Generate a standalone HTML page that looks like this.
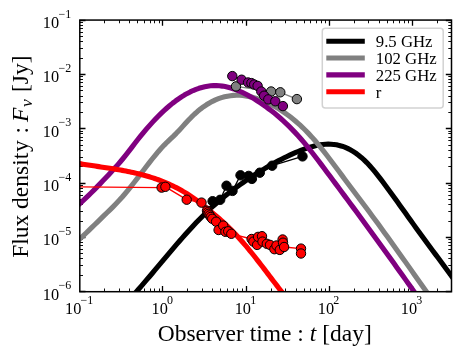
<!DOCTYPE html>
<html><head><meta charset="utf-8"><title>chart</title><style>html,body{margin:0;padding:0;background:#fff;}body{width:463px;height:360px;overflow:hidden;font-family:"Liberation Serif",serif;}svg{position:absolute;left:0;top:0;will-change:transform}</style></head><body>
<svg width="463" height="360" viewBox="0 0 463 360" style="display:block">
<rect x="0" y="0" width="463" height="360" fill="#ffffff"/>
<defs><clipPath id="ax"><rect x="79.8" y="20.07" width="371.70" height="271.63"/></clipPath></defs>
<path d="M162.50,291.7 v-5.7 M162.50,20.07 v5.7 M246.50,291.7 v-5.7 M246.50,20.07 v5.7 M329.50,291.7 v-5.7 M329.50,20.07 v5.7 M412.50,291.7 v-5.7 M412.50,20.07 v5.7 M79.8,291.50 h5.7 M451.5,291.50 h-5.7 M79.8,237.50 h5.7 M451.5,237.50 h-5.7 M79.8,183.50 h5.7 M451.5,183.50 h-5.7 M79.8,128.50 h5.7 M451.5,128.50 h-5.7 M79.8,74.50 h5.7 M451.5,74.50 h-5.7 M79.8,20.50 h5.7 M451.5,20.50 h-5.7" stroke="#000" stroke-width="1.3" fill="none"/>
<path d="M104.50,291.7 v-3.2 M104.50,20.07 v3.2 M119.50,291.7 v-3.2 M119.50,20.07 v3.2 M129.50,291.7 v-3.2 M129.50,20.07 v3.2 M137.50,291.7 v-3.2 M137.50,20.07 v3.2 M144.50,291.7 v-3.2 M144.50,20.07 v3.2 M150.50,291.7 v-3.2 M150.50,20.07 v3.2 M154.50,291.7 v-3.2 M154.50,20.07 v3.2 M159.50,291.7 v-3.2 M159.50,20.07 v3.2 M187.50,291.7 v-3.2 M187.50,20.07 v3.2 M202.50,291.7 v-3.2 M202.50,20.07 v3.2 M212.50,291.7 v-3.2 M212.50,20.07 v3.2 M220.50,291.7 v-3.2 M220.50,20.07 v3.2 M227.50,291.7 v-3.2 M227.50,20.07 v3.2 M233.50,291.7 v-3.2 M233.50,20.07 v3.2 M237.50,291.7 v-3.2 M237.50,20.07 v3.2 M242.50,291.7 v-3.2 M242.50,20.07 v3.2 M271.50,291.7 v-3.2 M271.50,20.07 v3.2 M285.50,291.7 v-3.2 M285.50,20.07 v3.2 M296.50,291.7 v-3.2 M296.50,20.07 v3.2 M304.50,291.7 v-3.2 M304.50,20.07 v3.2 M310.50,291.7 v-3.2 M310.50,20.07 v3.2 M316.50,291.7 v-3.2 M316.50,20.07 v3.2 M321.50,291.7 v-3.2 M321.50,20.07 v3.2 M325.50,291.7 v-3.2 M325.50,20.07 v3.2 M354.50,291.7 v-3.2 M354.50,20.07 v3.2 M368.50,291.7 v-3.2 M368.50,20.07 v3.2 M379.50,291.7 v-3.2 M379.50,20.07 v3.2 M387.50,291.7 v-3.2 M387.50,20.07 v3.2 M393.50,291.7 v-3.2 M393.50,20.07 v3.2 M399.50,291.7 v-3.2 M399.50,20.07 v3.2 M404.50,291.7 v-3.2 M404.50,20.07 v3.2 M408.50,291.7 v-3.2 M408.50,20.07 v3.2 M437.50,291.7 v-3.2 M437.50,20.07 v3.2 M451.50,291.7 v-3.2 M451.50,20.07 v3.2 M79.8,275.50 h3.2 M451.5,275.50 h-3.2 M79.8,265.50 h3.2 M451.5,265.50 h-3.2 M79.8,258.50 h3.2 M451.5,258.50 h-3.2 M79.8,253.50 h3.2 M451.5,253.50 h-3.2 M79.8,249.50 h3.2 M451.5,249.50 h-3.2 M79.8,245.50 h3.2 M451.5,245.50 h-3.2 M79.8,242.50 h3.2 M451.5,242.50 h-3.2 M79.8,239.50 h3.2 M451.5,239.50 h-3.2 M79.8,221.50 h3.2 M451.5,221.50 h-3.2 M79.8,211.50 h3.2 M451.5,211.50 h-3.2 M79.8,204.50 h3.2 M451.5,204.50 h-3.2 M79.8,199.50 h3.2 M451.5,199.50 h-3.2 M79.8,195.50 h3.2 M451.5,195.50 h-3.2 M79.8,191.50 h3.2 M451.5,191.50 h-3.2 M79.8,188.50 h3.2 M451.5,188.50 h-3.2 M79.8,185.50 h3.2 M451.5,185.50 h-3.2 M79.8,166.50 h3.2 M451.5,166.50 h-3.2 M79.8,157.50 h3.2 M451.5,157.50 h-3.2 M79.8,150.50 h3.2 M451.5,150.50 h-3.2 M79.8,145.50 h3.2 M451.5,145.50 h-3.2 M79.8,140.50 h3.2 M451.5,140.50 h-3.2 M79.8,137.50 h3.2 M451.5,137.50 h-3.2 M79.8,133.50 h3.2 M451.5,133.50 h-3.2 M79.8,131.50 h3.2 M451.5,131.50 h-3.2 M79.8,112.50 h3.2 M451.5,112.50 h-3.2 M79.8,102.50 h3.2 M451.5,102.50 h-3.2 M79.8,96.50 h3.2 M451.5,96.50 h-3.2 M79.8,90.50 h3.2 M451.5,90.50 h-3.2 M79.8,86.50 h3.2 M451.5,86.50 h-3.2 M79.8,82.50 h3.2 M451.5,82.50 h-3.2 M79.8,79.50 h3.2 M451.5,79.50 h-3.2 M79.8,76.50 h3.2 M451.5,76.50 h-3.2 M79.8,58.50 h3.2 M451.5,58.50 h-3.2 M79.8,48.50 h3.2 M451.5,48.50 h-3.2 M79.8,41.50 h3.2 M451.5,41.50 h-3.2 M79.8,36.50 h3.2 M451.5,36.50 h-3.2 M79.8,32.50 h3.2 M451.5,32.50 h-3.2 M79.8,28.50 h3.2 M451.5,28.50 h-3.2 M79.8,25.50 h3.2 M451.5,25.50 h-3.2 M79.8,22.50 h3.2 M451.5,22.50 h-3.2" stroke="#000" stroke-width="0.95" fill="none"/>
<g clip-path="url(#ax)" fill="none" stroke-linejoin="round">
<path d="M130.30,298.52 L133.05,295.48 L135.80,292.39 L138.55,289.27 L141.30,286.11 L144.05,282.93 L146.80,279.71 L149.55,276.48 L152.30,273.23 L155.05,269.96 L157.80,266.69 L160.55,263.42 L163.29,260.14 L166.04,256.87 L168.79,253.62 L171.54,250.37 L174.29,247.15 L177.04,243.94 L179.79,240.77 L182.54,237.63 L185.29,234.52 L188.04,231.46 L190.79,228.44 L193.54,225.48 L196.29,222.57 L199.04,219.71 L201.79,216.92 L204.54,214.20 L207.29,211.55 L210.04,208.97 L212.79,206.46 L215.54,204.01 L218.29,201.62 L221.04,199.30 L223.79,197.03 L226.54,194.82 L229.28,192.66 L232.03,190.55 L234.78,188.49 L237.53,186.48 L240.28,184.51 L243.03,182.58 L245.78,180.69 L248.53,178.84 L251.28,177.02 L254.03,175.24 L256.78,173.48 L259.53,171.75 L262.28,170.06 L265.03,168.39 L267.78,166.76 L270.53,165.16 L273.28,163.60 L276.03,162.08 L278.78,160.60 L281.53,159.16 L284.28,157.77 L287.03,156.42 L289.78,155.11 L292.53,153.85 L295.27,152.65 L298.02,151.49 L300.77,150.39 L303.52,149.35 L306.27,148.37 L309.02,147.47 L311.77,146.66 L314.52,145.94 L317.27,145.33 L320.02,144.83 L322.77,144.46 L325.52,144.23 L328.27,144.14 L331.02,144.20 L333.77,144.43 L336.52,144.83 L339.27,145.42 L342.02,146.19 L344.77,147.17 L347.52,148.36 L350.27,149.75 L353.02,151.35 L355.77,153.16 L358.52,155.19 L361.26,157.43 L364.01,159.89 L366.76,162.57 L369.51,165.48 L372.26,168.60 L375.01,171.91 L377.76,175.36 L380.51,178.93 L383.26,182.57 L386.01,186.25 L388.76,189.98 L391.51,193.73 L394.26,197.52 L397.01,201.32 L399.76,205.15 L402.51,208.99 L405.26,212.83 L408.01,216.68 L410.76,220.52 L413.51,224.36 L416.26,228.19 L419.01,232.00 L421.76,235.79 L424.51,239.55 L427.25,243.28 L430.00,246.99 L432.75,250.68 L435.50,254.36 L438.25,258.04 L441.00,261.73 L443.75,265.44 L446.50,269.17 L449.25,272.93 L452.00,276.73 L454.75,280.57 L457.50,284.47" stroke="#000000" stroke-width="5.1"/>
<path d="M73.80,244.69 L76.81,241.87 L79.83,239.02 L82.84,236.15 L85.86,233.26 L88.87,230.35 L91.89,227.43 L94.90,224.50 L97.91,221.57 L100.93,218.63 L103.94,215.70 L106.96,212.78 L109.97,209.83 L112.99,206.84 L116.00,203.76 L119.01,200.58 L122.03,197.24 L125.04,193.74 L128.06,190.07 L131.07,186.31 L134.09,182.48 L137.10,178.60 L140.11,174.66 L143.13,170.69 L146.14,166.74 L149.16,162.84 L152.17,159.01 L155.19,155.28 L158.20,151.71 L161.21,148.30 L164.23,145.09 L167.24,142.06 L170.26,139.19 L173.27,136.33 L176.29,133.32 L179.30,130.14 L182.31,126.86 L185.33,123.56 L188.34,120.31 L191.36,117.19 L194.37,114.26 L197.39,111.56 L200.40,109.09 L203.41,106.83 L206.43,104.78 L209.44,102.95 L212.46,101.33 L215.47,99.91 L218.49,98.68 L221.50,97.66 L224.51,96.82 L227.53,96.17 L230.54,95.69 L233.56,95.40 L236.57,95.27 L239.59,95.31 L242.60,95.52 L245.61,95.88 L248.63,96.39 L251.64,97.05 L254.66,97.85 L257.67,98.80 L260.69,99.87 L263.70,101.08 L266.71,102.41 L269.73,103.85 L272.74,105.42 L275.76,107.10 L278.77,108.89 L281.79,110.81 L284.80,112.85 L287.81,115.01 L290.83,117.30 L293.84,119.72 L296.86,122.28 L299.87,124.97 L302.89,127.80 L305.90,130.77 L308.91,133.89 L311.93,137.15 L314.94,140.56 L317.96,144.12 L320.97,147.80 L323.99,151.59 L327.00,155.47 L330.01,159.43 L333.03,163.44 L336.04,167.49 L339.06,171.55 L342.07,175.63 L345.09,179.68 L348.10,183.72 L351.11,187.74 L354.13,191.75 L357.14,195.76 L360.16,199.76 L363.17,203.78 L366.19,207.81 L369.20,211.85 L372.21,215.91 L375.23,220.00 L378.24,224.11 L381.26,228.25 L384.27,232.40 L387.29,236.57 L390.30,240.76 L393.31,244.96 L396.33,249.18 L399.34,253.41 L402.36,257.65 L405.37,261.89 L408.39,266.14 L411.40,270.40 L414.41,274.66 L417.43,278.92 L420.44,283.18 L423.46,287.43 L426.47,291.68 L429.49,295.93 L432.50,300.17" stroke="#808080" stroke-width="5.1"/>
<path d="M73.80,208.85 L76.71,206.35 L79.62,203.78 L82.53,201.12 L85.44,198.40 L88.35,195.61 L91.26,192.75 L94.17,189.85 L97.08,186.89 L99.99,183.88 L102.90,180.84 L105.81,177.76 L108.72,174.64 L111.63,171.50 L114.54,168.33 L117.45,165.08 L120.36,161.73 L123.27,158.25 L126.18,154.63 L129.09,150.89 L132.00,147.09 L134.91,143.29 L137.82,139.55 L140.73,135.90 L143.64,132.35 L146.55,128.91 L149.46,125.58 L152.37,122.35 L155.28,119.24 L158.19,116.25 L161.10,113.37 L164.01,110.62 L166.92,108.00 L169.83,105.50 L172.74,103.14 L175.65,100.91 L178.56,98.82 L181.47,96.87 L184.38,95.07 L187.29,93.41 L190.20,91.90 L193.11,90.55 L196.02,89.35 L198.93,88.31 L201.84,87.44 L204.75,86.73 L207.66,86.19 L210.57,85.82 L213.48,85.62 L216.39,85.61 L219.30,85.77 L222.21,86.10 L225.12,86.59 L228.03,87.23 L230.94,88.03 L233.85,88.96 L236.76,90.03 L239.67,91.23 L242.58,92.55 L245.49,93.99 L248.41,95.53 L251.32,97.18 L254.23,98.92 L257.14,100.74 L260.05,102.65 L262.96,104.63 L265.87,106.69 L268.78,108.83 L271.69,111.06 L274.60,113.37 L277.51,115.78 L280.42,118.28 L283.33,120.89 L286.24,123.59 L289.15,126.41 L292.06,129.33 L294.97,132.37 L297.88,135.52 L300.79,138.80 L303.70,142.20 L306.61,145.70 L309.52,149.30 L312.43,152.98 L315.34,156.73 L318.25,160.53 L321.16,164.38 L324.07,168.26 L326.98,172.16 L329.89,176.07 L332.80,179.97 L335.71,183.88 L338.62,187.78 L341.53,191.69 L344.44,195.61 L347.35,199.52 L350.26,203.45 L353.17,207.38 L356.08,211.32 L358.99,215.27 L361.90,219.23 L364.81,223.20 L367.72,227.17 L370.63,231.16 L373.54,235.16 L376.45,239.16 L379.36,243.17 L382.27,247.20 L385.18,251.22 L388.09,255.26 L391.00,259.31 L393.91,263.36 L396.82,267.42 L399.73,271.48 L402.64,275.56 L405.55,279.64 L408.46,283.72 L411.37,287.81 L414.28,291.91 L417.19,296.01 L420.10,300.12" stroke="#800080" stroke-width="5.1"/>
<path d="M73.80,162.58 L75.60,162.91 L77.39,163.23 L79.19,163.54 L80.99,163.85 L82.79,164.15 L84.58,164.44 L86.38,164.73 L88.18,165.01 L89.98,165.29 L91.77,165.56 L93.57,165.83 L95.37,166.10 L97.17,166.37 L98.96,166.64 L100.76,166.91 L102.56,167.17 L104.36,167.44 L106.15,167.72 L107.95,167.99 L109.75,168.27 L111.55,168.55 L113.34,168.84 L115.14,169.13 L116.94,169.43 L118.74,169.74 L120.53,170.06 L122.33,170.38 L124.13,170.71 L125.93,171.06 L127.72,171.41 L129.52,171.78 L131.32,172.15 L133.12,172.54 L134.91,172.95 L136.71,173.37 L138.51,173.80 L140.31,174.25 L142.10,174.71 L143.90,175.20 L145.70,175.70 L147.50,176.22 L149.29,176.76 L151.09,177.32 L152.89,177.89 L154.69,178.50 L156.48,179.12 L158.28,179.76 L160.08,180.43 L161.88,181.13 L163.67,181.85 L165.47,182.59 L167.27,183.36 L169.07,184.16 L170.86,184.99 L172.66,185.84 L174.46,186.72 L176.26,187.64 L178.05,188.58 L179.85,189.56 L181.65,190.57 L183.45,191.61 L185.24,192.68 L187.04,193.79 L188.84,194.94 L190.64,196.11 L192.43,197.33 L194.23,198.58 L196.03,199.87 L197.83,201.19 L199.62,202.53 L201.42,203.91 L203.22,205.31 L205.02,206.73 L206.81,208.17 L208.61,209.63 L210.41,211.11 L212.21,212.60 L214.00,214.11 L215.80,215.64 L217.60,217.19 L219.40,218.76 L221.19,220.36 L222.99,221.99 L224.79,223.65 L226.59,225.33 L228.38,227.05 L230.18,228.81 L231.98,230.60 L233.78,232.44 L235.57,234.31 L237.37,236.22 L239.17,238.19 L240.97,240.19 L242.76,242.24 L244.56,244.32 L246.36,246.45 L248.16,248.60 L249.95,250.79 L251.75,253.01 L253.55,255.26 L255.35,257.53 L257.14,259.82 L258.94,262.13 L260.74,264.45 L262.54,266.79 L264.33,269.14 L266.13,271.50 L267.93,273.86 L269.73,276.23 L271.52,278.60 L273.32,280.96 L275.12,283.32 L276.92,285.67 L278.71,288.01 L280.51,290.33 L282.31,292.64 L284.11,294.94 L285.90,297.21 L287.70,299.45" stroke="#ff0000" stroke-width="5.1"/>
<path d="M212.6,201.2 L220.2,199.8 L226.5,185.7 L232.5,190.9 L240.5,175.3 L248.7,175.9 L251.9,178.9 L259.8,172.7 L272.2,165.7 L302.5,156.4" stroke="#000000" stroke-width="1.35" fill="none"/><circle cx="212.6" cy="201.2" r="4.7" fill="#000000" stroke="#000" stroke-width="1.0"/><circle cx="220.2" cy="199.8" r="4.7" fill="#000000" stroke="#000" stroke-width="1.0"/><circle cx="226.5" cy="185.7" r="4.7" fill="#000000" stroke="#000" stroke-width="1.0"/><circle cx="232.5" cy="190.9" r="4.7" fill="#000000" stroke="#000" stroke-width="1.0"/><circle cx="240.5" cy="175.3" r="4.7" fill="#000000" stroke="#000" stroke-width="1.0"/><circle cx="248.7" cy="175.9" r="4.7" fill="#000000" stroke="#000" stroke-width="1.0"/><circle cx="251.9" cy="178.9" r="4.7" fill="#000000" stroke="#000" stroke-width="1.0"/><circle cx="259.8" cy="172.7" r="4.7" fill="#000000" stroke="#000" stroke-width="1.0"/><circle cx="272.2" cy="165.7" r="4.7" fill="#000000" stroke="#000" stroke-width="1.0"/><circle cx="302.5" cy="156.4" r="4.7" fill="#000000" stroke="#000" stroke-width="1.0"/>
<path d="M236.0,86.4 L271.1,91.5 L280.3,92.3 L296.9,99.1" stroke="#808080" stroke-width="1.35" fill="none"/><circle cx="236.0" cy="86.4" r="4.7" fill="#808080" stroke="#000" stroke-width="1.0"/><circle cx="271.1" cy="91.5" r="4.7" fill="#808080" stroke="#000" stroke-width="1.0"/><circle cx="280.3" cy="92.3" r="4.7" fill="#808080" stroke="#000" stroke-width="1.0"/><circle cx="296.9" cy="99.1" r="4.7" fill="#808080" stroke="#000" stroke-width="1.0"/>
<path d="M232.3,76.1 L241.6,79.7 L248.1,82.5 L251.4,83.1 L254.2,84.5 L257.6,85.9 L261.3,91.5 L264.1,95.7 L268.3,99.4 L275.3,101.3 L282.9,106.1" stroke="#800080" stroke-width="1.35" fill="none"/><circle cx="232.3" cy="76.1" r="4.7" fill="#800080" stroke="#000" stroke-width="1.0"/><circle cx="241.6" cy="79.7" r="4.7" fill="#800080" stroke="#000" stroke-width="1.0"/><circle cx="248.1" cy="82.5" r="4.7" fill="#800080" stroke="#000" stroke-width="1.0"/><circle cx="251.4" cy="83.1" r="4.7" fill="#800080" stroke="#000" stroke-width="1.0"/><circle cx="254.2" cy="84.5" r="4.7" fill="#800080" stroke="#000" stroke-width="1.0"/><circle cx="257.6" cy="85.9" r="4.7" fill="#800080" stroke="#000" stroke-width="1.0"/><circle cx="261.3" cy="91.5" r="4.7" fill="#800080" stroke="#000" stroke-width="1.0"/><circle cx="264.1" cy="95.7" r="4.7" fill="#800080" stroke="#000" stroke-width="1.0"/><circle cx="268.3" cy="99.4" r="4.7" fill="#800080" stroke="#000" stroke-width="1.0"/><circle cx="275.3" cy="101.3" r="4.7" fill="#800080" stroke="#000" stroke-width="1.0"/><circle cx="282.9" cy="106.1" r="4.7" fill="#800080" stroke="#000" stroke-width="1.0"/>
<path d="M74.8,186.9 L161.6,187.6 L165.4,186.8 L186.7,199.7 L201.5,202.6 L207.0,210.8 L207.8,212.3 L208.7,213.8 L209.7,215.4 L210.8,217.0 L212.2,218.8 L216.1,221.7 L218.6,230.0 L223.2,225.6 L225.4,231.8 L228.2,231.3 L231.3,233.8 L251.6,239.0 L253.4,241.6 L257.1,244.9 L258.1,236.9 L262.0,236.2 L262.5,241.6 L266.8,243.8 L270.0,244.9 L274.4,249.2 L276.5,245.5 L279.8,249.9 L282.6,239.5 L283.0,242.7 L284.1,247.0 L301.0,248.6 L301.0,253.5" stroke="#ff0000" stroke-width="1.35" fill="none"/><circle cx="161.6" cy="187.6" r="4.7" fill="#ff0000" stroke="#000" stroke-width="1.0"/><circle cx="165.4" cy="186.8" r="4.7" fill="#ff0000" stroke="#000" stroke-width="1.0"/><circle cx="186.7" cy="199.7" r="4.7" fill="#ff0000" stroke="#000" stroke-width="1.0"/><circle cx="201.5" cy="202.6" r="4.7" fill="#ff0000" stroke="#000" stroke-width="1.0"/><circle cx="207.0" cy="210.8" r="4.7" fill="#ff0000" stroke="#000" stroke-width="1.0"/><circle cx="207.8" cy="212.3" r="4.7" fill="#ff0000" stroke="#000" stroke-width="1.0"/><circle cx="208.7" cy="213.8" r="4.7" fill="#ff0000" stroke="#000" stroke-width="1.0"/><circle cx="209.7" cy="215.4" r="4.7" fill="#ff0000" stroke="#000" stroke-width="1.0"/><circle cx="210.8" cy="217.0" r="4.7" fill="#ff0000" stroke="#000" stroke-width="1.0"/><circle cx="212.2" cy="218.8" r="4.7" fill="#ff0000" stroke="#000" stroke-width="1.0"/><circle cx="216.1" cy="221.7" r="4.7" fill="#ff0000" stroke="#000" stroke-width="1.0"/><circle cx="218.6" cy="230.0" r="4.7" fill="#ff0000" stroke="#000" stroke-width="1.0"/><circle cx="223.2" cy="225.6" r="4.7" fill="#ff0000" stroke="#000" stroke-width="1.0"/><circle cx="225.4" cy="231.8" r="4.7" fill="#ff0000" stroke="#000" stroke-width="1.0"/><circle cx="228.2" cy="231.3" r="4.7" fill="#ff0000" stroke="#000" stroke-width="1.0"/><circle cx="231.3" cy="233.8" r="4.7" fill="#ff0000" stroke="#000" stroke-width="1.0"/><circle cx="251.6" cy="239.0" r="4.7" fill="#ff0000" stroke="#000" stroke-width="1.0"/><circle cx="253.4" cy="241.6" r="4.7" fill="#ff0000" stroke="#000" stroke-width="1.0"/><circle cx="257.1" cy="244.9" r="4.7" fill="#ff0000" stroke="#000" stroke-width="1.0"/><circle cx="258.1" cy="236.9" r="4.7" fill="#ff0000" stroke="#000" stroke-width="1.0"/><circle cx="262.0" cy="236.2" r="4.7" fill="#ff0000" stroke="#000" stroke-width="1.0"/><circle cx="262.5" cy="241.6" r="4.7" fill="#ff0000" stroke="#000" stroke-width="1.0"/><circle cx="266.8" cy="243.8" r="4.7" fill="#ff0000" stroke="#000" stroke-width="1.0"/><circle cx="270.0" cy="244.9" r="4.7" fill="#ff0000" stroke="#000" stroke-width="1.0"/><circle cx="274.4" cy="249.2" r="4.7" fill="#ff0000" stroke="#000" stroke-width="1.0"/><circle cx="276.5" cy="245.5" r="4.7" fill="#ff0000" stroke="#000" stroke-width="1.0"/><circle cx="279.8" cy="249.9" r="4.7" fill="#ff0000" stroke="#000" stroke-width="1.0"/><circle cx="282.6" cy="239.5" r="4.7" fill="#ff0000" stroke="#000" stroke-width="1.0"/><circle cx="283.0" cy="242.7" r="4.7" fill="#ff0000" stroke="#000" stroke-width="1.0"/><circle cx="284.1" cy="247.0" r="4.7" fill="#ff0000" stroke="#000" stroke-width="1.0"/><circle cx="301.0" cy="248.6" r="4.7" fill="#ff0000" stroke="#000" stroke-width="1.0"/><circle cx="301.0" cy="253.5" r="4.7" fill="#ff0000" stroke="#000" stroke-width="1.0"/>
</g>
<rect x="79.8" y="20.07" width="371.70" height="271.63" fill="none" stroke="#000" stroke-width="1.5"/>
<g font-family="'Liberation Serif', serif" fill="#000">
<text x="65.07" y="314" font-size="16.3">10</text><text x="80.57" y="303.7" font-size="12">&#8722;1</text>
<text x="151.55" y="314" font-size="16.3">10</text><text x="167.05" y="303.7" font-size="12">0</text>
<text x="234.65" y="314" font-size="16.3">10</text><text x="250.15" y="303.7" font-size="12">1</text>
<text x="317.75" y="314" font-size="16.3">10</text><text x="333.25" y="303.7" font-size="12">2</text>
<text x="400.85" y="314" font-size="16.3">10</text><text x="416.35" y="303.7" font-size="12">3</text>
<text x="42.83" y="299.50" font-size="16.3">10</text><text x="58.53" y="289.30" font-size="12">&#8722;6</text>
<text x="42.83" y="245.17" font-size="16.3">10</text><text x="58.53" y="234.97" font-size="12">&#8722;5</text>
<text x="42.83" y="190.85" font-size="16.3">10</text><text x="58.53" y="180.65" font-size="12">&#8722;4</text>
<text x="42.83" y="136.52" font-size="16.3">10</text><text x="58.53" y="126.32" font-size="12">&#8722;3</text>
<text x="42.83" y="82.20" font-size="16.3">10</text><text x="58.53" y="72.00" font-size="12">&#8722;2</text>
<text x="42.83" y="27.87" font-size="16.3">10</text><text x="58.53" y="17.67" font-size="12">&#8722;1</text>
<text x="264.7" y="340.9" font-size="23.5" text-anchor="middle">Observer time : <tspan font-style="italic">t</tspan> [day]</text>
<text transform="translate(28.1,156.7) rotate(-90)" font-size="23.5" text-anchor="middle">Flux densit<tspan dx="0.7">y</tspan><tspan dx="0.9"> : </tspan><tspan font-style="italic" dx="-0.8">F</tspan><tspan font-style="italic" font-size="17.62" dy="3.8" dx="0.6">&#957;</tspan><tspan dy="-3.8" dx="1.2"> [Jy]</tspan></text>
</g>
<rect x="322.3" y="28.3" width="120.9" height="79.6" rx="3" ry="3" fill="#ffffff" fill-opacity="0.8" stroke="#d2d2d2" stroke-width="1.5"/>
<g font-family="'Liberation Serif', serif" fill="#000" font-size="16.75">
<path d="M326.3,41.2 H364.8" stroke="#000000" stroke-width="5.1" fill="none"/>
<text x="375.8" y="47.0">9.5 GHz</text>
<path d="M326.3,58.0 H364.8" stroke="#808080" stroke-width="5.1" fill="none"/>
<text x="375.8" y="63.8">102 GHz</text>
<path d="M326.3,74.9 H364.8" stroke="#800080" stroke-width="5.1" fill="none"/>
<text x="375.8" y="80.7">225 GHz</text>
<path d="M326.3,91.7 H364.8" stroke="#ff0000" stroke-width="5.1" fill="none"/>
<text x="375.8" y="97.5">r</text>
</g>
</svg>
</body></html>
